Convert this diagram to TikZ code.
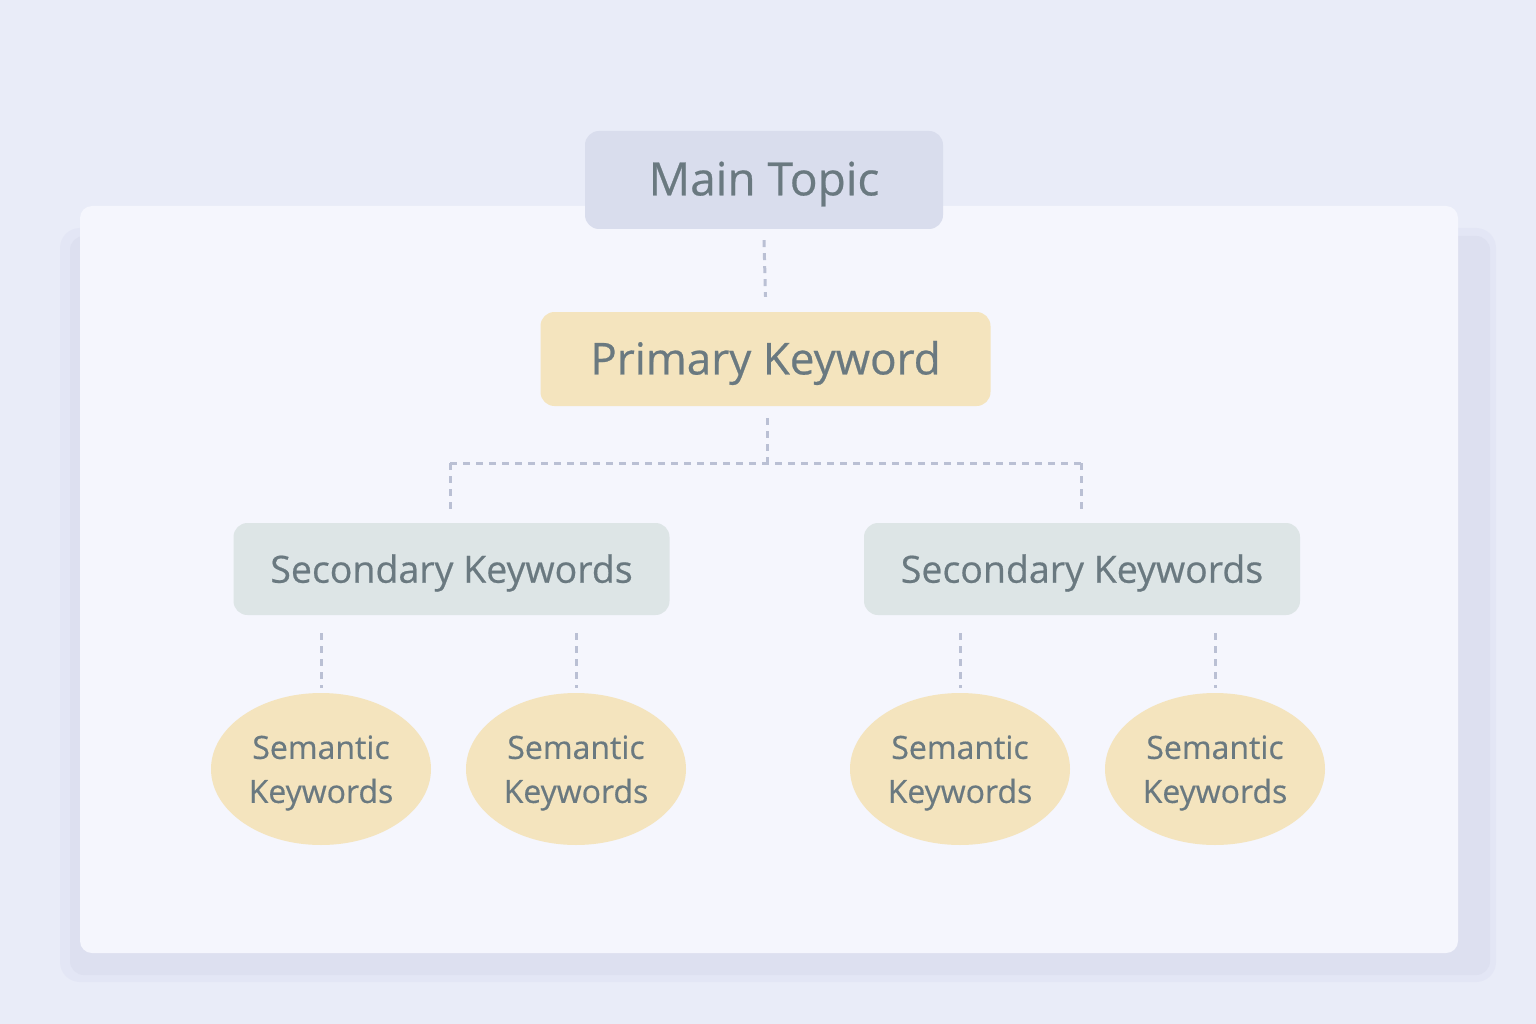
\documentclass[tikz,border=0pt]{standalone}
\usepackage{fontspec}
\setmainfont{Open Sans}
\newfontfamily\lblfont{Open Sans}[FakeBold=0.5]
\usetikzlibrary{shapes.geometric}
\definecolor{bgcol}{RGB}{233,236,248}
\definecolor{cardcol}{RGB}{245,246,253}
\definecolor{shadowcol}{RGB}{221,224,240}
\definecolor{shadowcolB}{RGB}{227,230,245}
\definecolor{topcol}{RGB}{217,221,237}
\definecolor{primcol}{RGB}{244,228,190}
\definecolor{seccol}{RGB}{221,229,230}
\definecolor{txtcol}{RGB}{106,121,128}
\definecolor{dashcol}{RGB}{186,192,212}
\tikzset{
  box/.style={rounded corners=14pt, inner sep=0pt},
  boxtext/.style={text=txtcol, inner sep=0pt, yshift=-4pt},
  ell/.style={ellipse, fill=primcol, minimum width=220pt, minimum height=152pt, inner sep=0pt},
  elltext/.style={text=txtcol, align=center, inner sep=0pt, yshift=-4pt, font=\lblfont\fontsize{32}{44}\selectfont},
  conn/.style={draw=dashcol, line width=3pt, dash pattern=on 7pt off 6pt}
}
\begin{document}
\begin{tikzpicture}[x=1pt,y=-1pt]
\fill[bgcol] (0,0) rectangle (1536,1024);
\useasboundingbox (0,0) rectangle (1536,1024);
% card shadow and card
\fill[shadowcolB, rounded corners=20pt] (60,228) rectangle (1496,982);
\fill[shadowcol, rounded corners=14pt] (70,236) rectangle (1490,975);
\fill[cardcol, rounded corners=12pt] (80,206) rectangle (1458,953);
% nodes
\node[box, fill=topcol, minimum width=358pt, minimum height=98pt,
  label={[boxtext, font=\lblfont\fontsize{46}{50}\selectfont]center:Main Topic}] (top) at (764,180) {};
\node[box, fill=primcol, minimum width=450pt, minimum height=94pt,
  label={[boxtext, font=\lblfont\fontsize{44}{50}\selectfont]center:Primary Keyword}] (prim) at (765.5,359) {};
\node[box, fill=seccol, minimum width=436pt, minimum height=92pt,
  label={[boxtext, font=\lblfont\fontsize{37.5}{44}\selectfont]center:Secondary Keywords}] (secL) at (451.5,569) {};
\node[box, fill=seccol, minimum width=436pt, minimum height=92pt,
  label={[boxtext, font=\lblfont\fontsize{37.5}{44}\selectfont]center:Secondary Keywords}] (secR) at (1082,569) {};
\node[ell, label={[elltext]center:Semantic\\Keywords}] (s1) at (321,769) {};
\node[ell, label={[elltext]center:Semantic\\Keywords}] (s2) at (576,769) {};
\node[ell, label={[elltext]center:Semantic\\Keywords}] (s3) at (960,769) {};
\node[ell, label={[elltext]center:Semantic\\Keywords}] (s4) at (1215,769) {};
% connectors
\coordinate (j) at (767,463);
\coordinate (jl) at (450,463);
\coordinate (jr) at (1081,463);
\draw[conn] ([yshift=-11pt]top.south) -- ([yshift=15pt]prim.north);
\draw[conn] ([xshift=1.5pt,yshift=-12pt]prim.south) -- (j);
\draw[conn] (jl) -- (jr);
\draw[conn] (jl) -- ([yshift=8pt]secL.north -| jl);
\draw[conn] (jr) -- ([yshift=8pt]secR.north -| jr);
\draw[conn] ([yshift=-18pt]secL.south -| s1) -- ([yshift=5pt]s1.north);
\draw[conn] ([yshift=-18pt]secL.south -| s2) -- ([yshift=5pt]s2.north);
\draw[conn] ([yshift=-18pt]secR.south -| s3) -- ([yshift=5pt]s3.north);
\draw[conn] ([yshift=-18pt]secR.south -| s4) -- ([yshift=5pt]s4.north);
\end{tikzpicture}
\end{document}
